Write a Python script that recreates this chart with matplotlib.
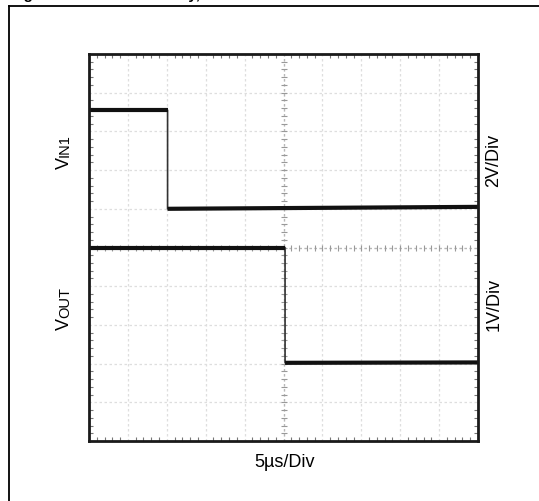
import numpy as np
import matplotlib.pyplot as plt
from matplotlib.lines import Line2D

plt.rcParams['font.family'] = ['Liberation Sans', 'DejaVu Sans']

# scope screen, 10 x 10 divisions, time in us (5us/div)
us_per_div = 5
n_div = 10

# VIN1 trace (divisions from bottom), 2V/Div
vin_t = [0, 10.1, 10.1, 50]
vin_lvl = [8.55, 8.55, 6.0, 6.05]

# VOUT trace (divisions from bottom), 1V/Div
vout_t = [0, 25.2, 25.2, 50]
vout_lvl = [5.0, 5.0, 2.02, 2.03]

left_labels = [('V', 'IN1'), ('V', 'OUT')]
right_labels = ['2V/Div', '1V/Div']
x_label = '5\u00b5s/Div'

W, H = 539, 502
fig = plt.figure(figsize=(W / 100, H / 100), dpi=100)
ax = fig.add_axes([89 / W, 1 - 442 / H, 389 / W, 387 / H])

xmax = us_per_div * n_div
ax.set_xlim(0, xmax)
ax.set_ylim(0, n_div)

# grid
ax.set_xticks(np.arange(0, xmax + 0.1, us_per_div))
ax.set_yticks(np.arange(0, n_div + 0.1, 1))
ax.set_xticks(np.arange(0, xmax + 0.1, us_per_div / 5), minor=True)
ax.set_yticks(np.arange(0, n_div + 0.01, 0.2), minor=True)
ax.tick_params(which='both', direction='in', labelbottom=False, labelleft=False,
               top=True, right=True, color='#777777')
ax.tick_params(which='major', length=0)
ax.tick_params(which='minor', length=3, width=0.8)
ax.grid(which='major', color='#dedede', ls=(0, (2, 2)), lw=0.9)
for s in ax.spines.values():
    s.set_linewidth(2)
    s.set_color('#1a1a1a')

# center crosshair with small ticks
ax.axhline(n_div / 2, color='#b8b8b8', ls=(0, (2, 2)), lw=0.9)
ax.axvline(xmax / 2, color='#b8b8b8', ls=(0, (2, 2)), lw=0.9)
cx = np.arange(0, xmax + 0.1, us_per_div / 5)
cy = np.arange(0, n_div + 0.01, 0.2)
ax.plot(cx, np.full_like(cx, n_div / 2), ls='none', marker='|', ms=4, mew=0.8, color='#999999')
ax.plot(np.full_like(cy, xmax / 2), cy, ls='none', marker='_', ms=4, mew=0.8, color='#999999')

# traces: thin edges, thick flat levels
for t, lvl in [(vin_t, vin_lvl), (vout_t, vout_lvl)]:
    ax.plot(t, lvl, color='#333333', lw=1.2)
    for i in range(0, len(t), 2):
        ax.plot(t[i:i + 2], lvl[i:i + 2], color='#111111', lw=3, solid_capstyle='butt')

# labels
fig.canvas.draw()
renderer = fig.canvas.get_renderer()


def mixed_label(x_px, y_center_px, big, small, big_size=13, small_size=10.5):
    # rotated label: big "V" followed by smaller caps suffix on same baseline
    t1 = fig.text(0, 0, big, fontsize=big_size, rotation=90,
                  rotation_mode='anchor', ha='left', va='baseline')
    t2 = fig.text(0, 0, small, fontsize=small_size, rotation=90,
                  rotation_mode='anchor', ha='left', va='baseline')
    h1 = t1.get_window_extent(renderer).height
    h2 = t2.get_window_extent(renderer).height
    y0 = H - y_center_px - (h1 + h2) / 2
    base_x = (x_px + 6) / W
    t1.set_position((base_x, y0 / H))
    t2.set_position((base_x, (y0 + h1) / H))


mixed_label(63, 152, *left_labels[0])
mixed_label(63, 308, *left_labels[1])

fig.text(494 / W, 1 - 160 / H, right_labels[0], fontsize=13, rotation=90,
         ha='center', va='center')
fig.text(494 / W, 1 - 304 / H, right_labels[1], fontsize=13, rotation=90,
         ha='center', va='center')
fig.text(285 / W, 1 - 463 / H, x_label, fontsize=13, ha='center', va='center')

# caption above, cut off by the top edge (only descenders show)
fig.text(10 / W, 1 + 1 / H, 'Figure', fontsize=11, fontweight='bold', va='baseline')
fig.text(200 / W, 1 + 1 / H, 'Delay,', fontsize=11, fontweight='bold',
         va='baseline', ha='right')

# outer frame of the figure panel
fig.add_artist(Line2D([9 / W, 9 / W], [0, 1 - 7 / H], color='black', lw=1.3))
fig.add_artist(Line2D([9 / W, 1], [1 - 7 / H, 1 - 7 / H], color='black', lw=1.3))

fig.savefig('out.png', dpi=100)
